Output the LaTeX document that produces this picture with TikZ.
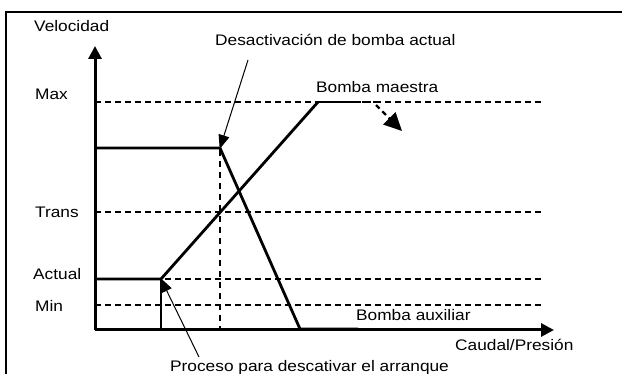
\documentclass[tikz,border=0pt]{standalone}
\usepackage{fontspec}
\setmainfont{Liberation Sans}[FakeStretch=1.13]
\usetikzlibrary{arrows.meta}
\begin{document}
\begin{tikzpicture}[x=1pt,y=-1pt,
  lbl/.style={anchor=base west,inner sep=0pt,font=\fontsize{15.3}{17}\selectfont},
  axisline/.style={line width=3pt,-{Triangle[length=13pt,width=13pt]}},
  grid/.style={line width=1.3pt,dash pattern=on 6pt off 4pt},
  curve/.style={line width=2.8pt,line join=miter},
  vdash/.style={line width=2.4pt,dash pattern=on 6pt off 5pt},
  note/.style={line width=1pt,-{Triangle[length=14pt,width=11pt]},shorten >=-1pt}]
\useasboundingbox (0,0) rectangle (622,374);
% frame
\draw[line width=2.2pt] (6,374) -- (6,12) -- (622,12);
% coordinates
\coordinate (O) at (95,330);
\coordinate (ytop) at (95,46);
\coordinate (xend) at (554,330);
% grid lines
\draw[grid] (95,102) -- (543,102);
\draw[grid] (95,212) -- (543,212);
\draw[grid] (95,279) -- (543,279);
\draw[grid] (95,305) -- (543,305);
% vertical dotted
\coordinate (cA) at (220,148);
\draw[vdash] (220,150) -- (220,329);
% current pump
\coordinate (cB) at (300,329);
\draw[curve] (95,148) -- (cA) -- (cB) -- (358,329);
% master pump
\coordinate (mA) at (161,279);
\coordinate (mB) at (318,102);
\draw[curve] (95,279) -- (mA) -- (mB);
\draw[curve] (161,329) -- (mA);
\draw[line width=2.6pt,dash pattern=on 7pt off 4pt] (mB) -- (376,102);
\coordinate (mTip) at (402,131);
\draw[line width=2.4pt,dash pattern=on 5pt off 4pt,-{Triangle[length=18pt,width=17pt]}] (376,105) -- (mTip);
% axes
\draw[axisline] (O) -- (ytop);
\draw[axisline] (O) -- (xend);
% labels
\node[lbl] (vel) at (34,32) {Velocidad};
\node[lbl] (max) at (35,100) {Max};
\node[lbl] (trans) at (35,218) {Trans};
\node[lbl] (act) at (33,280) {Actual};
\node[lbl] (min) at (35,312) {Min};
\node[lbl] (desact) at (215,46) {Desactivación de bomba actual};
\node[lbl] (maestra) at (316,93) {Bomba maestra};
\node[lbl] (aux) at (356,321) {Bomba auxiliar};
\node[lbl] (caudal) at (455,351) {Caudal/Presión};
\node[lbl] (proceso) at (170,372) {Proceso para descativar el arranque};
% annotation arrows
\coordinate (d0) at (248,60);
\coordinate (p0) at (199,357);
\draw[note] (d0) -- (cA);
\draw[note] (p0) -- (mA);
\end{tikzpicture}
\end{document}
